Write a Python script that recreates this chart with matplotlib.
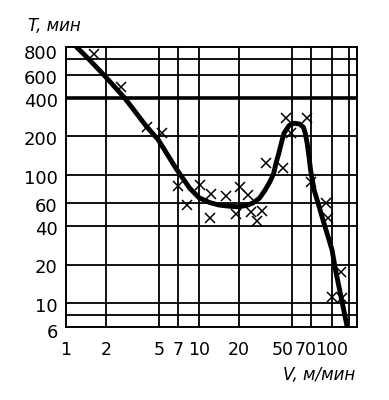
import matplotlib

matplotlib.use("Agg")
import matplotlib.pyplot as plt
from matplotlib.ticker import NullLocator
from matplotlib.transforms import ScaledTranslation

# tool life T (min) vs cutting speed V (m/min)
speed_pts = [1.63, 2.58, 4.06, 5.28, 6.9, 8.1, 10.1, 12.0, 12.2, 15.9, 20.3, 23.2, 19.1, 24.4,
             27.5, 30.0, 31.9, 42.8, 44.9, 65.0, 49.0, 70.0, 90.0, 94.0, 116.0, 100.0, 118.0]
life_pts = [880, 484, 236, 214, 82, 58, 83, 46.5, 71, 68, 80, 70, 49.5, 51,
            43.7, 52.6, 125, 113, 277, 277, 212, 89, 61, 46, 17.6, 11.2, 10.9]

# traced fitted curve
curve_v = [1.2, 1.49, 1.94, 2.76, 4.02, 4.91, 6.7, 8.5, 10.0, 12.0, 14.1, 17.0, 20.0, 23.0,
           25.4, 28.5, 31.3, 34.0, 36.4, 38.0, 39.8, 41.7, 43.5, 47.6, 52.1, 57.0, 61.0,
           63.0, 65.0, 67.0, 69.0, 73.4, 80.0, 85.5, 100.0, 106.0, 130.0]
curve_t = [1000, 800, 600, 400, 240, 190, 113, 79, 66.5, 61, 58.3, 57, 56.5, 58,
           60.5, 66, 76, 88, 103, 125, 148, 180, 212, 244, 254, 250, 236,
           210, 177, 140, 109, 76, 56.5, 44.5, 26, 18.3, 6.5]

x_ticks = [1, 2, 5, 7, 10, 20, 50, 70, 100]
x_labels = ["1", "2", "5", "7", "10", "20", "50", "70", "100"]
y_ticks = [800, 600, 400, 200, 100, 60, 40, 20, 10]
y_labels = ["800", "600", "400", "200", "100", "60", "40", "20", "10"]

grid_v = [2, 5, 7, 10, 20, 50, 70, 100, 135]
grid_h = [8, 10, 20, 40, 60, 100, 200, 600, 800]

plt.rcParams["font.family"] = ["DejaVu Sans"]

fig = plt.figure(figsize=(3.89, 4.0), dpi=100)
ax = fig.add_axes([66 / 389, 73 / 400, 291 / 389, 280 / 400])
ax.set_xscale("log")
ax.set_yscale("log")
ax.set_xlim(1, 154)
ax.set_ylim(6.5, 1000)
ax.xaxis.set_minor_locator(NullLocator())
ax.yaxis.set_minor_locator(NullLocator())

for v in grid_v:
    ax.axvline(v, color="k", lw=1.3, zorder=1)
for h in grid_h:
    ax.axhline(h, color="k", lw=1.3, zorder=1)
ax.axhline(400, color="k", lw=2.6, zorder=1)
for sp in ax.spines.values():
    sp.set_linewidth(1.4)

ax.plot(curve_v, curve_t, color="k", lw=3.5, solid_capstyle="round",
        solid_joinstyle="round", zorder=3)
ax.plot(speed_pts, life_pts, "x", color="k", ms=7, mew=1.1, zorder=4)

ax.set_xticks(x_ticks)
ax.set_xticklabels(x_labels, fontsize=12.5)
ax.set_yticks(y_ticks)
ax.set_yticklabels(y_labels, fontsize=13)
ax.tick_params(axis="both", length=0)
ax.tick_params(axis="x", pad=10)
ax.tick_params(axis="y", pad=6)

# crowded labels were nudged on the original
shifts_x = {"50": -7.0, "70": -4.5}
for lab in ax.get_xticklabels():
    dx = shifts_x.get(lab.get_text(), 0)
    if dx:
        lab.set_transform(lab.get_transform() + ScaledTranslation(dx / 72, 0, fig.dpi_scale_trans))
for lab in ax.get_yticklabels():
    dy = 5.0 if lab.get_text() == "800" else -1.3
    lab.set_transform(lab.get_transform() + ScaledTranslation(0, dy / 72, fig.dpi_scale_trans))

ax.annotate("6", xy=(0, 6), xycoords=("axes fraction", "data"), xytext=(-6, -1),
            textcoords="offset points", ha="right", va="center", fontsize=13,
            annotation_clip=False)

fig.text(28 / 389, 1 - 26 / 400, "T, мин", style="italic", fontsize=12,
         ha="left", va="center")
fig.text(283 / 389, 1 - 375 / 400, "V, м/мин", style="italic", fontsize=12,
         ha="left", va="center")

fig.savefig("out.png", dpi=100, facecolor="white")
